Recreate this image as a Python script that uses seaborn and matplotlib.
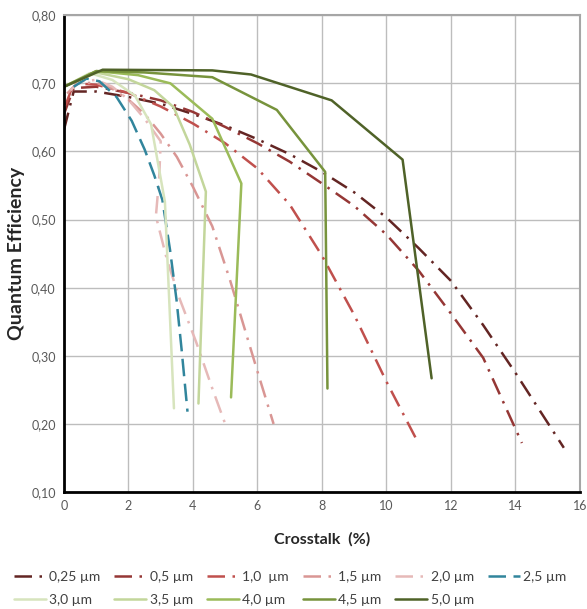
import pandas as pd
import matplotlib.pyplot as plt
import seaborn as sns
from matplotlib.lines import Line2D
from matplotlib.ticker import FuncFormatter, MultipleLocator

# pixel sizes (µm) and their curves: crosstalk (%) vs quantum efficiency
sizes = ["0,25 µm", "0,5 µm", "1,0  µm", "1,5 µm", "2,0 µm", "2,5 µm",
         "3,0 µm", "3,5 µm", "4,0 µm", "4,5 µm", "5,0 µm"]

x_025 = [0.0, 0.3, 1.0, 2.0, 3.0, 4.0, 5.0, 6.0, 7.0, 8.0, 9.0, 10.0, 11.0, 12.0, 13.0, 14.0, 15.5]
y_025 = [0.632, 0.688, 0.688, 0.680, 0.670, 0.655, 0.638, 0.618, 0.596, 0.570, 0.540, 0.503,
         0.458, 0.410, 0.345, 0.275, 0.165]

x_05 = [0.0, 0.3, 1.0, 2.0, 3.0, 4.0, 5.0, 6.0, 7.0, 8.0, 9.0, 10.0, 11.0, 12.0, 13.0, 14.2]
y_05 = [0.655, 0.693, 0.695, 0.686, 0.675, 0.658, 0.636, 0.612, 0.585, 0.553, 0.520, 0.478,
        0.425, 0.362, 0.297, 0.172]

x_10 = [0.05, 0.3, 1.0, 2.0, 3.0, 4.0, 5.0, 6.0, 7.0, 8.0, 9.0, 10.0, 10.9]
y_10 = [0.668, 0.700, 0.698, 0.686, 0.666, 0.641, 0.612, 0.575, 0.522, 0.447, 0.360, 0.262, 0.180]

x_15 = [0.1, 0.4, 1.0, 1.5, 2.0, 2.5, 3.0, 3.5, 4.0, 4.6, 5.15, 5.6, 6.0, 6.5]
y_15 = [0.685, 0.700, 0.701, 0.692, 0.676, 0.655, 0.626, 0.592, 0.548, 0.490, 0.411, 0.340,
        0.277, 0.200]

x_20 = [0.2, 0.5, 1.0, 1.5, 2.0, 2.5, 3.0, 2.95, 2.85, 3.2, 3.6, 4.1, 4.6, 5.0]
y_20 = [0.690, 0.703, 0.705, 0.695, 0.676, 0.648, 0.615, 0.560, 0.505, 0.440, 0.382, 0.320,
        0.252, 0.200]

x_25 = [0.3, 0.7, 1.1, 1.63, 2.1, 2.5, 2.8, 3.05, 3.29, 3.49, 3.65, 3.83]
y_25 = [0.695, 0.707, 0.703, 0.680, 0.645, 0.603, 0.565, 0.529, 0.455, 0.382, 0.308, 0.218]

x_30 = [0.0, 0.8, 1.5, 2.2, 2.7, 3.13, 3.41]
y_30 = [0.695, 0.715, 0.705, 0.682, 0.640, 0.526, 0.223]

x_35 = [0.0, 1.0, 2.0, 2.8, 3.4, 3.9, 4.4, 4.17]
y_35 = [0.695, 0.716, 0.706, 0.690, 0.665, 0.610, 0.541, 0.230]

x_40 = [0.0, 1.0, 2.3, 3.3, 4.6, 5.5, 5.18]
y_40 = [0.695, 0.718, 0.712, 0.700, 0.648, 0.553, 0.239]

x_45 = [0.0, 1.0, 2.5, 4.6, 6.6, 8.1, 8.17]
y_45 = [0.695, 0.718, 0.716, 0.709, 0.661, 0.570, 0.252]

x_50 = [0.0, 1.2, 4.6, 5.8, 8.3, 10.5, 11.4]
y_50 = [0.695, 0.720, 0.719, 0.713, 0.675, 0.588, 0.267]

xs = [x_025, x_05, x_10, x_15, x_20, x_25, x_30, x_35, x_40, x_45, x_50]
ys = [y_025, y_05, y_10, y_15, y_20, y_25, y_30, y_35, y_40, y_45, y_50]

colors = ["#632523", "#953735", "#c0504d", "#d99694", "#e6b9b8", "#31859c",
          "#d7e4bd", "#c3d69b", "#9bbb59", "#77933c", "#4f6228"]
dashdot = (7, 3, 1, 3)
dash_map = {s: dashdot for s in sizes[:5]}
dash_map[sizes[5]] = (7, 3)
for s in sizes[6:]:
    dash_map[s] = ""

df = pd.concat([pd.DataFrame({"Crosstalk": x, "QE": y, "Size": s})
                for s, x, y in zip(sizes, xs, ys)], ignore_index=True)

sns.set_style("white")
plt.rcParams["font.family"] = ["Lato", "DejaVu Sans"]

fig = plt.figure(figsize=(5.87, 6.09), dpi=100)
ax = fig.add_axes([0.109, 0.192, 0.879, 0.783])

sns.lineplot(data=df, x="Crosstalk", y="QE", hue="Size", style="Size",
             palette=dict(zip(sizes, colors)), dashes=dash_map,
             sort=False, estimator=None, linewidth=1.8, legend=False, ax=ax)

ax.set_xlim(0, 16)
ax.set_ylim(0.10, 0.80)
ax.xaxis.set_major_locator(MultipleLocator(2))
ax.yaxis.set_major_locator(MultipleLocator(0.1))
ax.yaxis.set_major_formatter(FuncFormatter(lambda v, p: f"{v:.2f}".replace(".", ",")))
ax.grid(True, color="#bdbdbd", linewidth=1)
ax.set_axisbelow(True)
ax.tick_params(length=0, labelsize=9, colors="#595959", pad=6)

for side in ["top", "right"]:
    ax.spines[side].set_color("#a6a6a6")
    ax.spines[side].set_linewidth(1.5)
for side in ["left", "bottom"]:
    ax.spines[side].set_color("black")
    ax.spines[side].set_linewidth(2)

ax.set_xlabel("Crosstalk  (%)", fontsize=11.5, fontweight="bold", labelpad=14)
ax.set_ylabel("Quantum Efficiency", fontsize=14, fontweight="bold", labelpad=4)

handles = [Line2D([], [], color=c, linewidth=1.8,
                  dashes=dash_map[s] if dash_map[s] else (None, None))
           for s, c in zip(sizes, colors)]
order = [0, 6, 1, 7, 2, 8, 3, 9, 4, 10, 5]
fig.legend([handles[i] for i in order], [sizes[i] for i in order],
           loc="center", bbox_to_anchor=(0.494, 0.034), ncol=6, frameon=False,
           fontsize=10, handlelength=2.3, handletextpad=0.25, columnspacing=1.0,
           labelspacing=0.75, labelcolor="#404040")

fig.savefig("out.png", dpi=100)
